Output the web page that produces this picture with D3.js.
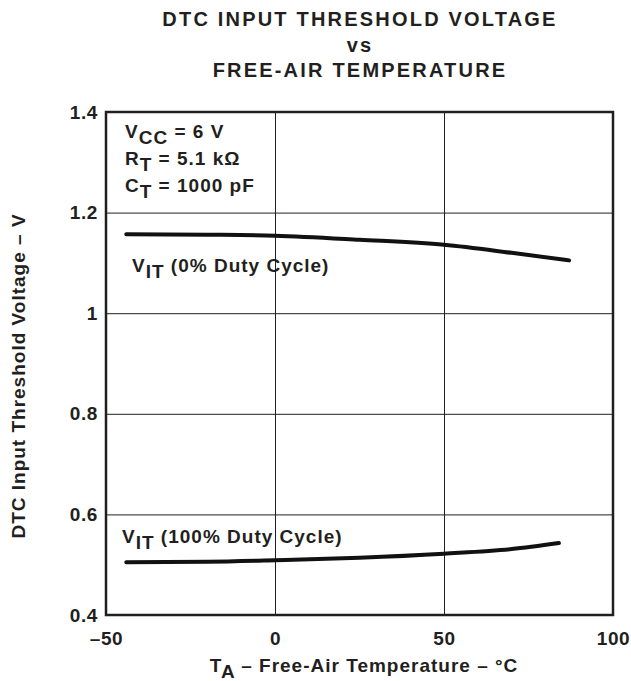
<!DOCTYPE html>
<html>
<head>
<meta charset="utf-8">
<script src="https://cdn.jsdelivr.net/npm/d3@7"></script>
<style>
  body { margin: 0; background: #fff; }
  svg text { font-family: "Liberation Sans", Arial, sans-serif; font-weight: bold; fill: #231f20; }
</style>
</head>
<body>
<svg id="chart" width="631" height="681"></svg>
<script>
// temperature (°C) vs threshold voltage (V)
var tempsZero = [-44, -20, 0, 25, 50, 70, 87];
var voltsZero = [1.157, 1.156, 1.154, 1.146, 1.136, 1.120, 1.105];
var tempsFull = [-44, -20, 0, 25, 50, 70, 84];
var voltsFull = [0.505, 0.506, 0.509, 0.514, 0.522, 0.531, 0.543];

var xTicks = [-50, 0, 50, 100];
var xTickLabels = ["\u201350", "0", "50", "100"];
var yTicks = [0.4, 0.6, 0.8, 1, 1.2, 1.4];
var yTickLabels = ["0.4", "0.6", "0.8", "1", "1.2", "1.4"];

var titleLines = ["DTC INPUT THRESHOLD VOLTAGE", "vs", "FREE-AIR TEMPERATURE"];

var margin = {top: 112, left: 106, right: 18, bottom: 66};
var W = 631, H = 681;
var width = W - margin.left - margin.right;
var height = H - margin.top - margin.bottom;

var svg = d3.select("#chart");

var x = d3.scaleLinear().domain([-50, 100]).range([0, width]);
var y = d3.scaleLinear().domain([0.4, 1.4]).range([height, 0]);

// title
svg.selectAll("text.title")
  .data(titleLines)
  .enter()
  .append("text")
  .attr("class", "title")
  .attr("x", 360)
  .attr("y", function(d, i) { return 26 + i * 25.5; })
  .attr("text-anchor", "middle")
  .attr("font-size", "20px")
  .attr("letter-spacing", "2.2px")
  .text(function(d) { return d; });

var g = svg.append("g").attr("transform", "translate(" + margin.left + "," + margin.top + ")");

// grid
g.append("g")
  .attr("class", "grid")
  .attr("transform", "translate(0," + height + ")")
  .call(d3.axisBottom(x).tickValues(xTicks).tickSize(-height).tickFormat(""))
  .call(function(s) { s.select(".domain").remove(); });
g.append("g")
  .attr("class", "grid")
  .call(d3.axisLeft(y).tickValues(yTicks).tickSize(-width).tickFormat(""))
  .call(function(s) { s.select(".domain").remove(); });
g.selectAll(".grid line").attr("stroke", "#231f20").attr("stroke-width", 1);

// tick labels
var xAxis = g.append("g")
  .attr("transform", "translate(0," + height + ")")
  .call(d3.axisBottom(x).tickValues(xTicks).tickSize(0).tickPadding(17)
    .tickFormat(function(d, i) { return xTickLabels[i]; }));
var yAxis = g.append("g")
  .call(d3.axisLeft(y).tickValues(yTicks).tickSize(0).tickPadding(8)
    .tickFormat(function(d, i) { return yTickLabels[i]; }));
[xAxis, yAxis].forEach(function(a) {
  a.select(".domain").remove();
  a.attr("font-family", null).attr("font-size", null);
  a.selectAll("text").attr("font-size", "19px").attr("letter-spacing", "0.6px").attr("fill", "#231f20");
});

// frame
g.append("rect")
  .attr("width", width)
  .attr("height", height)
  .attr("fill", "none")
  .attr("stroke", "#231f20")
  .attr("stroke-width", 2.5);

// curves
var line = d3.line()
  .x(function(d) { return x(d[0]); })
  .y(function(d) { return y(d[1]); })
  .curve(d3.curveMonotoneX);

[[tempsZero, voltsZero], [tempsFull, voltsFull]].forEach(function(s) {
  g.append("path")
    .datum(d3.zip(s[0], s[1]))
    .attr("d", line)
    .attr("fill", "none")
    .attr("stroke", "#111")
    .attr("stroke-width", 4)
    .attr("stroke-linecap", "round");
});

// text with subscript
function subText(parent, px, py, parts, size, anchor) {
  var t = parent.append("text").attr("x", px).attr("y", py)
    .attr("font-size", size + "px").attr("letter-spacing", "1px");
  if (anchor) t.attr("text-anchor", anchor);
  parts.forEach(function(p) {
    var ts = t.append("tspan").text(p[0]);
    if (p[1] === "sub") ts.attr("dy", 6);
    else if (p[1] === "up") ts.attr("dy", -6);
  });
  return t;
}

subText(g, 19, 26, [["V"], ["CC", "sub"], [" = 6 V", "up"]], 19);
subText(g, 19, 53, [["R"], ["T", "sub"], [" = 5.1 k\u03a9", "up"]], 19);
subText(g, 19, 80, [["C"], ["T", "sub"], [" = 1000 pF", "up"]], 19);
subText(g, 26, 160, [["V"], ["IT", "sub"], [" (0% Duty Cycle)", "up"]], 19);
subText(g, 16, 431, [["V"], ["IT", "sub"], [" (100% Duty Cycle)", "up"]], 19);

// axis titles
subText(svg, 364, 672, [["T"], ["A", "sub"], [" \u2013 Free-Air Temperature \u2013 \u00b0C", "up"]], 19, "middle");
svg.append("text")
  .attr("transform", "translate(25,376) rotate(-90)")
  .attr("text-anchor", "middle")
  .attr("font-size", "19px")
  .attr("letter-spacing", "1px")
  .text("DTC Input Threshold Voltage \u2013 V");
</script>
</body>
</html>
